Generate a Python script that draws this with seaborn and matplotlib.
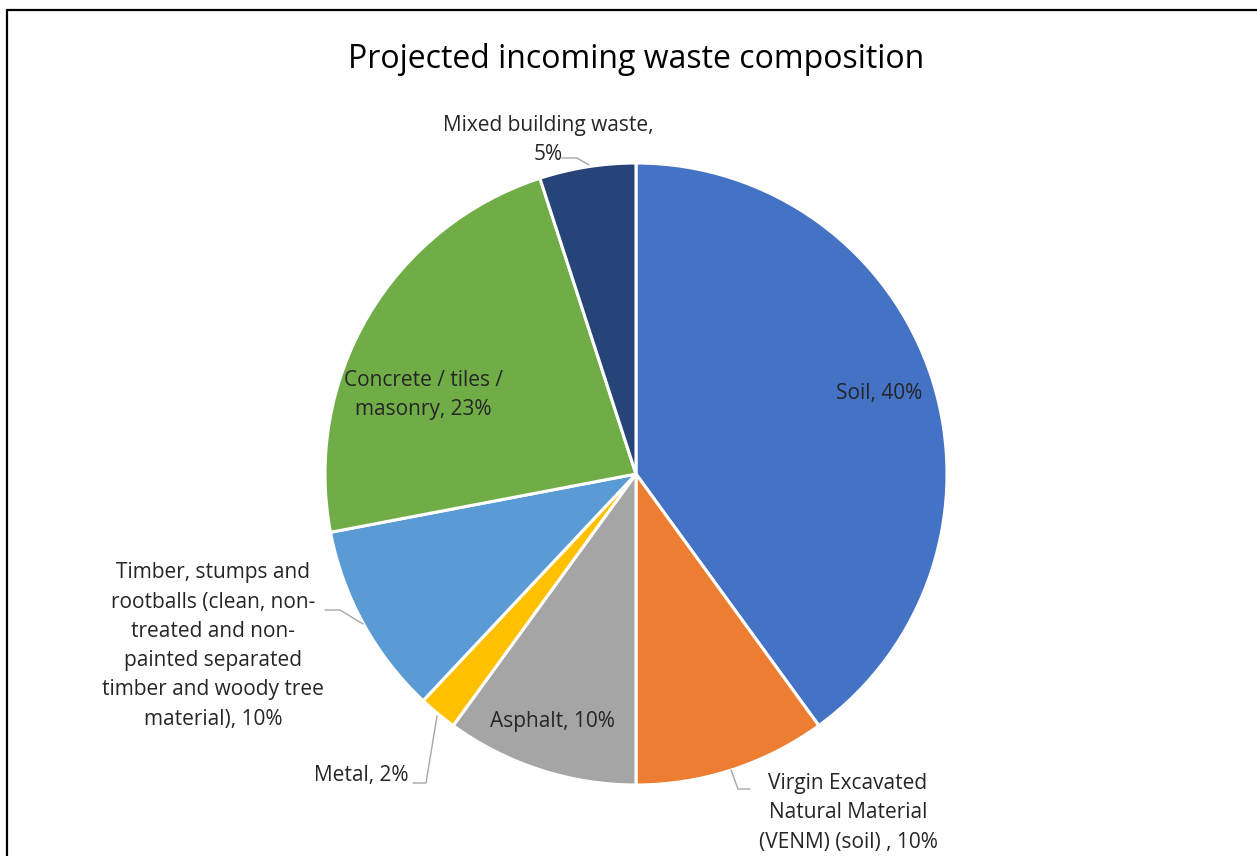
import matplotlib
matplotlib.use("Agg")
import matplotlib.pyplot as plt
from matplotlib.lines import Line2D
import seaborn as sns

# data, clockwise from 12 o'clock
categories = [
    "Soil",
    "Virgin Excavated\nNatural Material\n(VENM) (soil) ",
    "Asphalt",
    "Metal",
    "Timber, stumps and\nrootballs (clean, non-\ntreated and non-\npainted separated\ntimber and woody tree\nmaterial)",
    "Concrete / tiles /\nmasonry",
    "Mixed building waste,\n",
]
shares = [40, 10, 10, 2, 10, 23, 5]
colors = ["#4472C4", "#ED7D31", "#A5A5A5", "#FFC000", "#5B9BD5", "#70AD47", "#264478"]

sns.set_theme(style="white")
plt.rcParams["font.family"] = ["Open Sans", "DejaVu Sans"]

W, H = 1257, 856
cx, cy, r = 636, 474, 311
fig = plt.figure(figsize=(W / 100, H / 100), dpi=100)
fig.patch.set_facecolor("white")
ax = fig.add_axes([(cx - r) / W, (H - cy - r) / H, 2 * r / W, 2 * r / H])
ax.pie(shares, colors=colors, startangle=90, counterclock=False,
       wedgeprops=dict(edgecolor="white", linewidth=2.2))
ax.set_xlim(-1, 1)
ax.set_ylim(-1, 1)
ax.set_aspect("equal")
ax.axis("off")


def px(x, y):
    return ((x - cx) / r, (cy - y) / r)


def lab(i):
    sep = "" if categories[i].endswith("\n") else ", "
    return f"{categories[i]}{sep}{shares[i]}%"


fs = 15
tkw = dict(fontsize=fs, color="#262626", ha="center", va="center", linespacing=1.52)
lc = "#A6A6A6"

# inside labels
ax.text(*px(879, 394), lab(0), **tkw)
ax.text(*px(423, 395), lab(5), **tkw)
ax.text(*px(552, 722), lab(2), **tkw)

# outside labels with leader lines
ax.text(*px(848, 813), lab(1), **tkw)
ax.add_line(Line2D(*zip(px(731, 770), px(738, 789), px(750, 789)), color=lc, lw=1))

ax.text(*px(361, 775), lab(3), **tkw)
ax.add_line(Line2D(*zip(px(413, 783), px(426, 783), px(437, 716)), color=lc, lw=1))

ax.text(*px(213, 646), lab(4), **tkw)
ax.add_line(Line2D(*zip(px(325, 610), px(340, 610), px(363, 624)), color=lc, lw=1))

ax.text(*px(548, 140), lab(6), **tkw)
ax.add_line(Line2D(*zip(px(562, 158), px(577, 158), px(589, 165)), color=lc, lw=1))
for l in ax.lines:
    l.set_clip_on(False)

fig.text(636 / W, 1 - 59 / H, "Projected incoming waste composition",
         fontsize=23, color="#000000", ha="center", va="center")

# frame (left and top edges visible)
fig.add_artist(Line2D([7 / W, 7 / W], [0, 1 - 10 / H], color="black", lw=1.6))
fig.add_artist(Line2D([7 / W, 1], [1 - 10 / H, 1 - 10 / H], color="black", lw=1.6))

fig.savefig("out.png", dpi=100)
